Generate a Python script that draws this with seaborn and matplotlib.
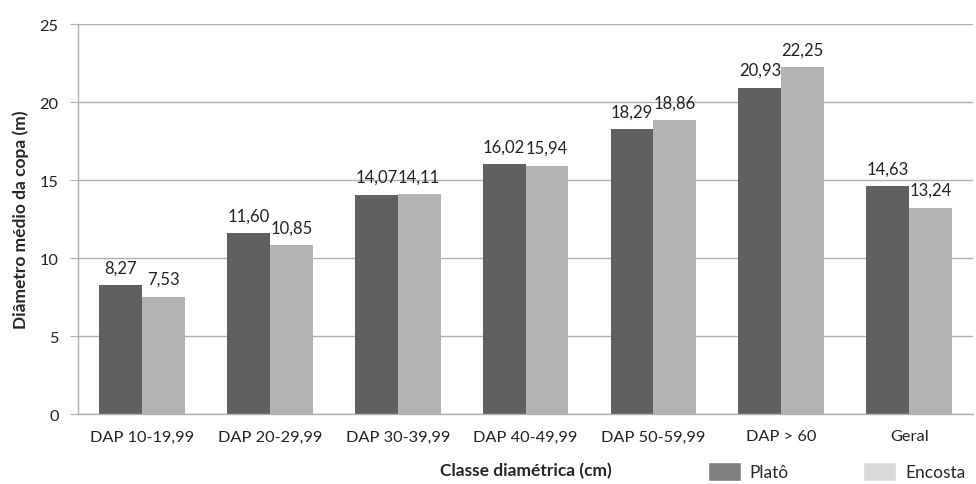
import numpy as np
import pandas as pd
import matplotlib
matplotlib.use("Agg")
import matplotlib.pyplot as plt
from matplotlib.patches import Patch
import seaborn as sns

classes = ["DAP 10-19,99", "DAP 20-29,99", "DAP 30-39,99", "DAP 40-49,99",
           "DAP 50-59,99", "DAP > 60", "Geral"]
plato = [8.27, 11.60, 14.07, 16.02, 18.29, 20.93, 14.63]
encosta = [7.53, 10.85, 14.11, 15.94, 18.86, 22.25, 13.24]
series = ["Platô", "Encosta"]

df = pd.DataFrame({
    "classe": classes * 2,
    "valor": plato + encosta,
    "local": [series[0]] * len(classes) + [series[1]] * len(classes),
})

sns.set_style("white")
plt.rcParams["font.family"] = ["Lato", "DejaVu Sans"]

fig = plt.figure(figsize=(9.76, 4.85), dpi=100)
ax = fig.add_axes([0.080, 0.144, 0.917, 0.804])

sns.barplot(data=df, x="classe", y="valor", hue="local", ax=ax,
            palette=["#606060", "#b3b3b3"], saturation=1, width=0.67,
            legend=False, errorbar=None, linewidth=0, edgecolor="none")

for cont in ax.containers:
    labels = [f"{b.get_height():.2f}".replace(".", ",") for b in cont]
    ax.bar_label(cont, labels=labels, padding=7, fontsize=12, color="#222222")

ax.set_ylim(0, 25)
ax.set_yticks([0, 5, 10, 15, 20, 25])
ax.set_xlim(-0.5, len(classes) - 0.5)
ax.yaxis.grid(True, color="#b0b0b0", linewidth=1)
ax.set_axisbelow(True)
for s in ["top", "right"]:
    ax.spines[s].set_visible(False)
for s in ["left", "bottom"]:
    ax.spines[s].set_color("#b0b0b0")
    ax.spines[s].set_linewidth(1)

ax.set_xticks(np.arange(-0.5, len(classes)), minor=True)
ax.tick_params(axis="x", which="major", length=0, labelsize=11.8, pad=11,
               labelcolor="#222222")
ax.tick_params(axis="x", which="minor", length=6, color="#b0b0b0", direction="out")
ax.tick_params(axis="y", length=6, color="#b0b0b0", labelsize=11.8,
               labelcolor="#222222", left=True, pad=8)

ax.set_xlabel("Classe diamétrica (cm)", fontsize=12.5, fontweight="bold", labelpad=13)
ax.set_ylabel("Diâmetro médio da copa (m)", fontsize=12.5, fontweight="bold", labelpad=8)

handles = [Patch(facecolor="#7f7f7f"), Patch(facecolor="#d9d9d9")]
fig.legend(handles, series, loc="lower right", bbox_to_anchor=(1.005, -0.025),
           ncol=2, frameon=False, fontsize=12.5, handlelength=1.9,
           handleheight=1.3, columnspacing=4.3, handletextpad=0.5)

fig.savefig("out.png", dpi=100)
